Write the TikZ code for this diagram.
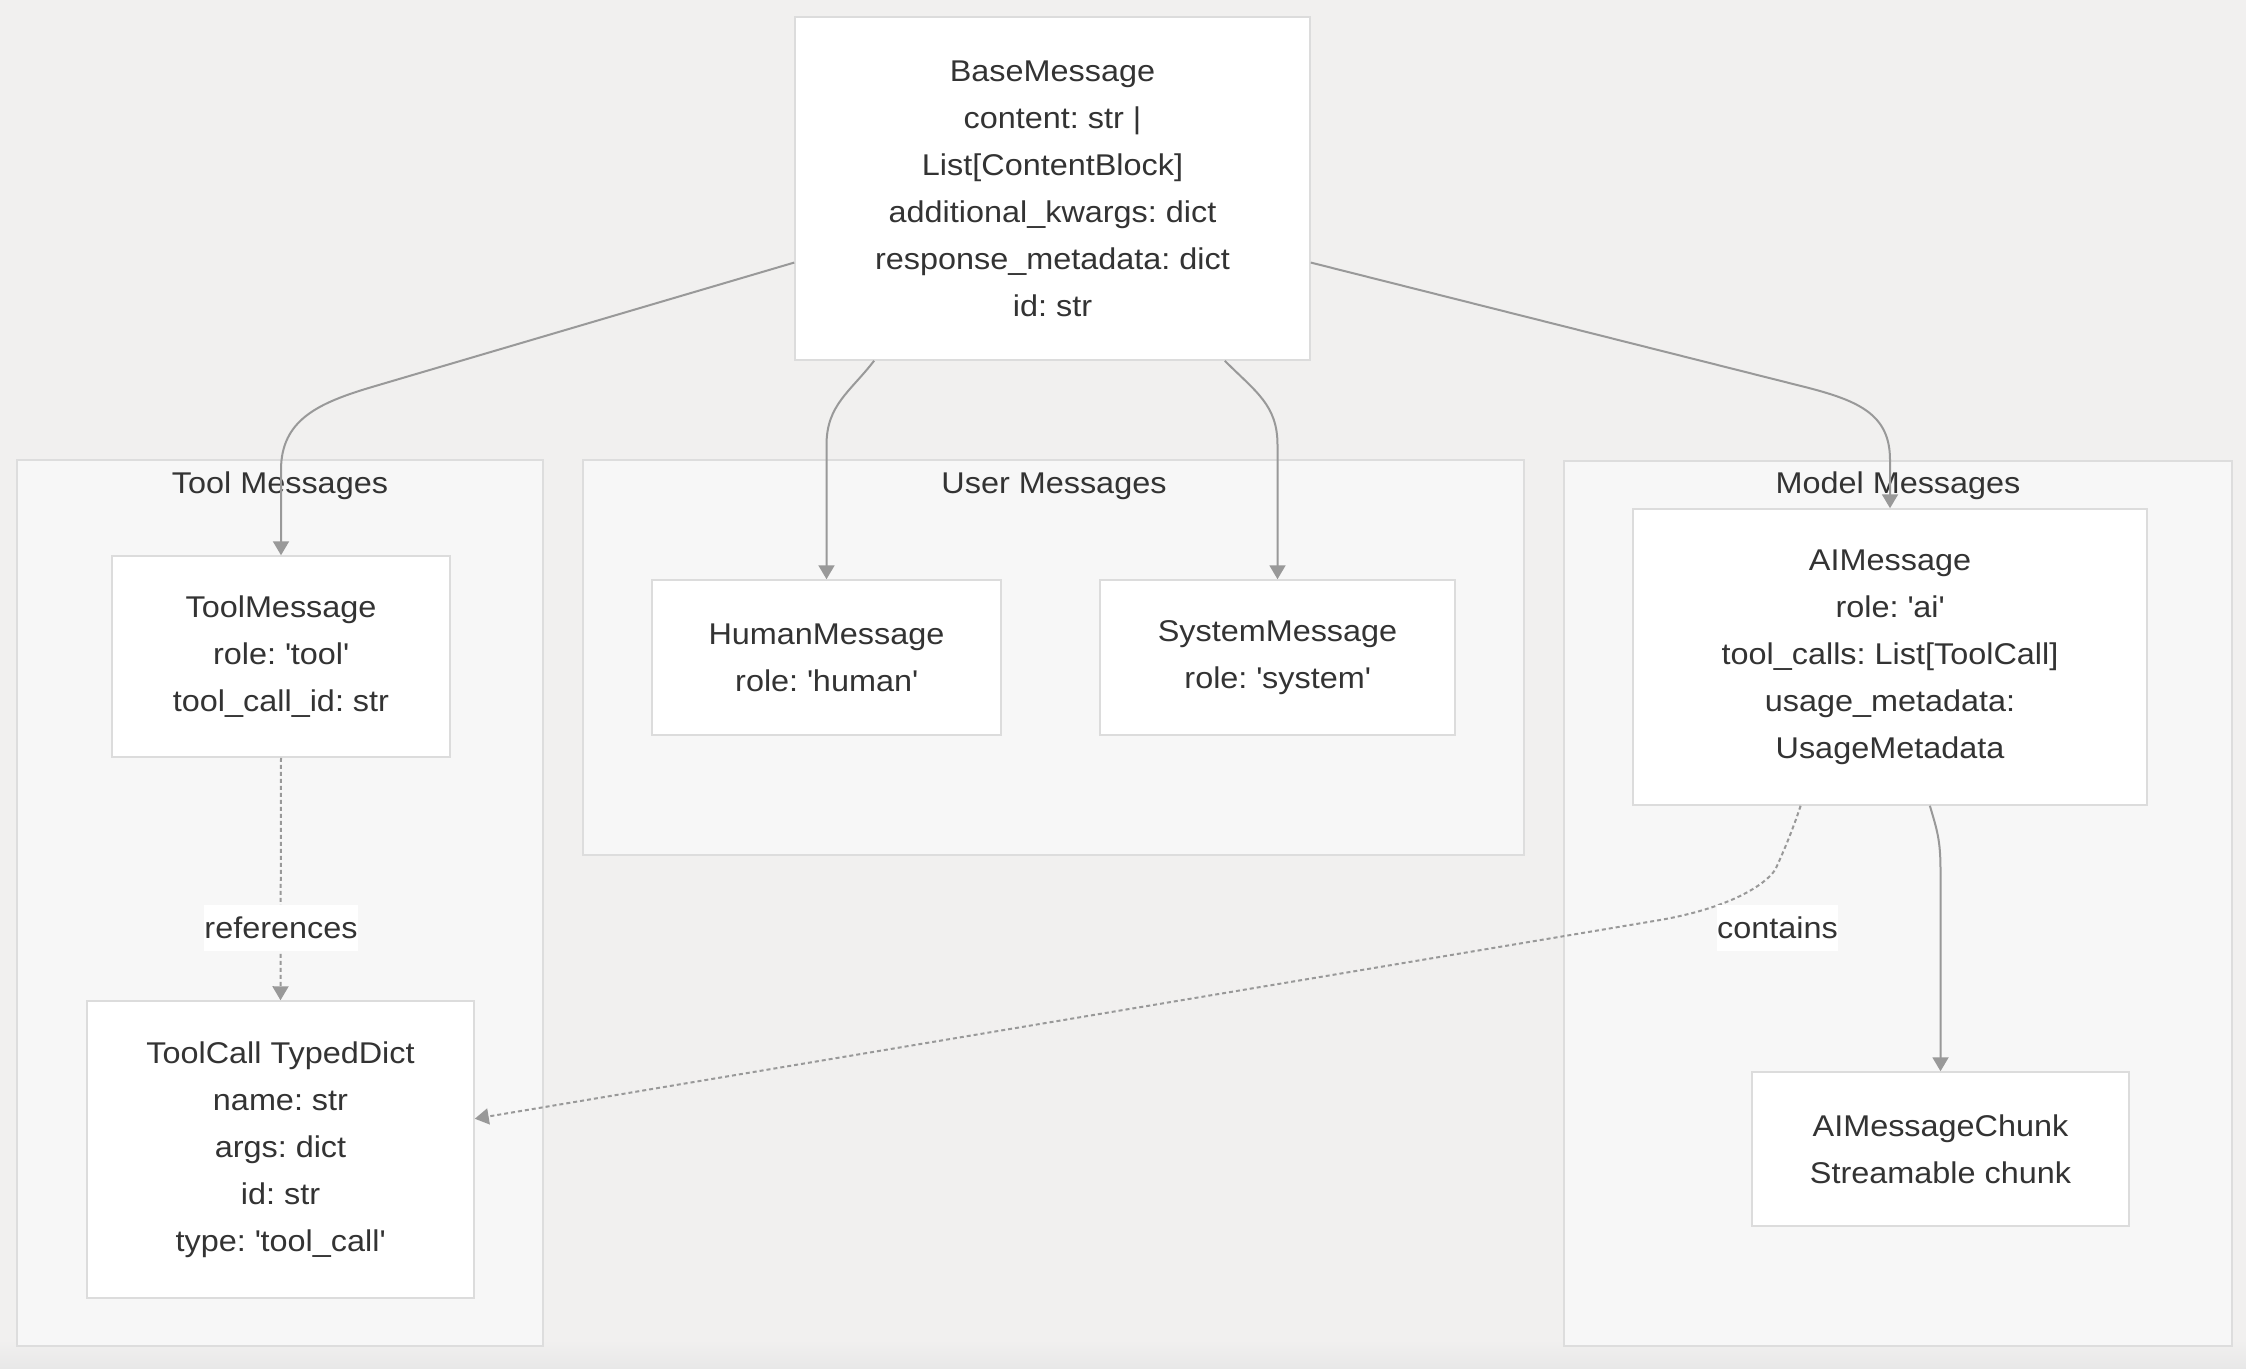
\documentclass[tikz,border=0pt]{standalone}
\usepackage{fontspec}
\setmainfont{Liberation Sans}[FakeStretch=1.08]
\usetikzlibrary{arrows.meta,calc}
\definecolor{bgc}{HTML}{F1F0EF}
\definecolor{clfill}{HTML}{F7F7F7}
\definecolor{clborder}{HTML}{DDDDDD}
\definecolor{nodeborder}{HTML}{DCDCDC}
\definecolor{edgec}{HTML}{999999}
\definecolor{txt}{HTML}{333333}
\newcommand\sq{\textquotesingle}
\tikzset{
  box/.style={draw=nodeborder, line width=1.5pt, fill=white, inner sep=0pt, align=center,
    text=txt, font=\fontsize{30}{47}\selectfont\frenchspacing},
  cluster/.style={draw=clborder, line width=1.5pt, fill=clfill},
  cltitle/.style={text=txt, font=\fontsize{30}{36}\selectfont, inner sep=0pt},
  edge/.style={draw=edgec, line width=2pt, -{Triangle[length=14pt,width=16pt]}},
  dotedge/.style={edge, dash pattern=on 4pt off 3pt},
  elabel/.style={fill=white, text=txt, font=\fontsize{30}{36}\selectfont, inner sep=0pt,
    minimum height=46pt},
}
\begin{document}
\begin{tikzpicture}[x=1pt,y=-1pt]
\useasboundingbox (0,0) rectangle (2246,1368);
\fill[bgc] (0,0) rectangle (2246,1368);
\shade[top color=bgc, bottom color=black!9] (0,1340) rectangle (2246,1368);

% clusters
\draw[cluster] (17,460) rectangle (543,1346);
\draw[cluster] (583,460) rectangle (1524,855);
\draw[cluster] (1564,461) rectangle (2232,1346);
\node[cltitle] (tooltitle) at (280,486) {Tool Messages};
\node[cltitle] (usertitle) at (1054,486) {User Messages};
\node[cltitle] (modeltitle) at (1898,486) {Model Messages};

% nodes
\node[box, minimum width=515pt, minimum height=343pt] (base) at (1052.5,188.5)
  {BaseMessage\\content: str |\\List[ContentBlock]\\additional\_kwargs: dict\\response\_metadata: dict\\id: str};
\node[box, minimum width=338pt, minimum height=201pt] (toolmsg) at (281,656.5)
  {ToolMessage\\role: \sq tool\sq\\tool\_call\_id: str};
\node[box, minimum width=387pt, minimum height=297pt] (toolcall) at (280.5,1149.5)
  {ToolCall TypedDict\\name: str\\args: dict\\id: str\\type: \sq tool\_call\sq};
\node[box, minimum width=349pt, minimum height=155pt] (human) at (826.5,657.5)
  {HumanMessage\\role: \sq human\sq};
\node[box, minimum width=355pt, minimum height=155pt] (system) at (1277.5,657.5)
  {SystemMessage\\role: \sq system\sq};
\node[box, minimum width=514pt, minimum height=296pt] (ai) at (1890,657)
  {AIMessage\\role: \sq ai\sq\\tool\_calls: List[ToolCall]\\usage\_metadata:\\UsageMetadata};
\node[box, minimum width=377pt, minimum height=154pt] (chunk) at (1940.5,1149)
  {AIMessageChunk\\Streamable chunk};

% edges from BaseMessage
\draw[edge] (base.196) -- (372,387) .. controls (318,403) and (281,420) .. (281,470) -- (toolmsg.north);
\draw[edge] (base.224.5) .. controls (850,392) and (826.5,405) .. (826.5,445) -- (human.north);
\draw[edge] (base.315.7) .. controls (1256,392) and (1277.5,405) .. (1277.5,445) -- (system.north);
\draw[edge] (base.344.9) -- (1805,387) .. controls (1860,401) and (1890,415) .. (1890,460) -- (ai.north);

% AIMessage -> chunk
\draw[edge] (ai.285) .. controls (1937,830) and (1940.5,840) .. (1940.5,870) -- (chunk.north);

% references
\draw[dotedge] (toolmsg.south) -- (toolcall.north);
\node[elabel, minimum width=151pt] (reflbl) at (281,928) {references};

% contains
\draw[dotedge] (ai.239) .. controls (1792,832) and (1782,855) .. (1776,868)
  .. controls (1771,879) and (1740,906) .. (1660,920) -- (toolcall.9.5);
\node[elabel, minimum width=121pt] (containslbl) at (1777.5,928) {contains};
\end{tikzpicture}
\end{document}
